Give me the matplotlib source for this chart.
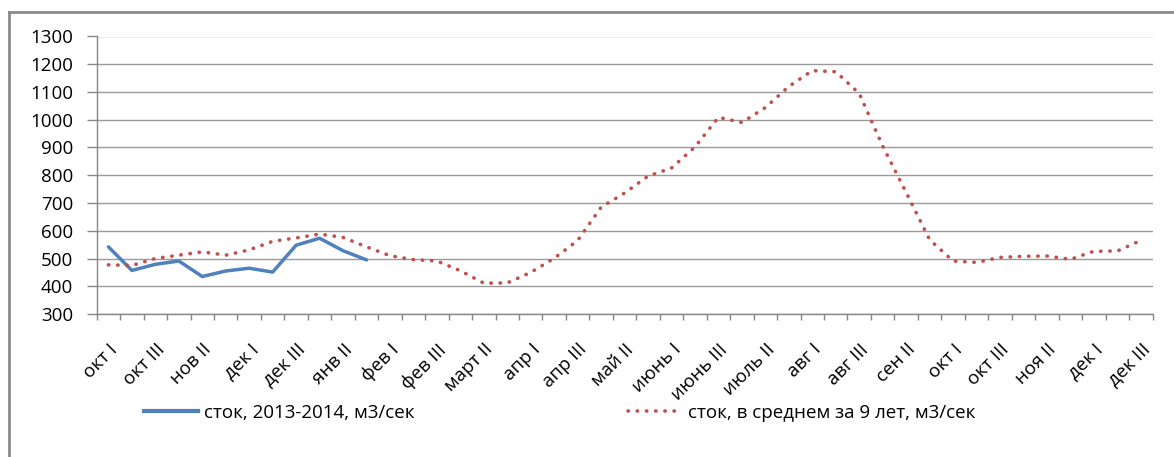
import matplotlib
matplotlib.use("Agg")
import matplotlib.pyplot as plt
from matplotlib.lines import Line2D

plt.rcParams['font.family'] = ['Open Sans', 'DejaVu Sans']

categories = ["окт I", "окт II", "окт III", "нов I", "нов II", "нов III",
              "дек I", "дек II", "дек III", "янв I", "янв II", "янв III",
              "фев I", "фев II", "фев III", "март I", "март II", "март III",
              "апр I", "апр II", "апр III", "май I", "май II", "май III",
              "июнь I", "июнь II", "июнь III", "июль I", "июль II", "июль III",
              "авг I", "авг II", "авг III", "сен I", "сен II", "сен III",
              "окт I", "окт II", "окт III", "ноя I", "ноя II", "ноя III",
              "дек I", "дек II", "дек III"]

flow_2013_2014 = [542, 457, 479, 491, 435, 455, 465, 451, 548, 573, 528, 495]

flow_avg_9y = [477, 475, 500, 512, 524, 512, 531, 562, 574, 588, 576, 542,
               510, 496, 491, 456, 411, 412, 450, 501, 565, 685, 736, 797,
               826, 902, 1009, 990, 1044, 1120, 1177, 1173, 1095, 905, 738, 568,
               491, 486, 504, 508, 509, 497, 526, 527, 565]

label_current = "сток, 2013-2014, м3/сек"
label_avg = "сток, в среднем за 9 лет, м3/сек"
y_ticks = [300, 400, 500, 600, 700, 800, 900, 1000, 1100, 1200, 1300]

FS = 13.5
W, H = 1174, 457
fig = plt.figure(figsize=(W / 100, H / 100), dpi=100)
ax = fig.add_axes([96.7 / W, 1 - 314 / H, (1152.5 - 96.7) / W, (314 - 36.5) / H])

x_cur = list(range(len(flow_2013_2014)))
x_avg = list(range(len(flow_avg_9y)))

ax.plot(x_cur, flow_2013_2014, color='#4F81BD', lw=2.5, solid_joinstyle='round',
        solid_capstyle='round', zorder=3)
ax.plot(x_avg, flow_avg_9y, color='#C0504D', lw=2.6, linestyle=(0, (0.1, 2.45)),
        dash_capstyle='round', zorder=3)

ax.set_xlim(-0.5, len(categories) - 0.5)
ax.set_ylim(300, 1300)
ax.set_yticks(y_ticks)
ax.set_yticklabels([str(v) for v in y_ticks], fontsize=FS)

ax.set_xticks([i - 0.5 for i in range(len(categories) + 1)], minor=False)
ax.set_xticklabels([])
ax.set_xticks(list(range(0, len(categories), 2)), minor=True)
ax.set_xticklabels([categories[i] for i in range(0, len(categories), 2)], minor=True,
                   rotation=45, ha='right', va='top', rotation_mode='anchor', fontsize=FS)
ax.tick_params(axis='x', which='minor', length=0, pad=19)
ax.tick_params(axis='x', which='major', length=4.5, color='#868686', width=1)
ax.tick_params(axis='y', length=7, color='#868686', width=1, pad=10)

ax.grid(axis='y', color='#9a9a9a', lw=1)
ax.set_axisbelow(True)
for s in ['top', 'right']:
    ax.spines[s].set_visible(False)
for s in ['left', 'bottom']:
    ax.spines[s].set_color('#868686')
    ax.spines[s].set_linewidth(1)

# outer chart frame (left and top edges visible)
fig.add_artist(Line2D([9 / W, 9 / W], [0, 1 - 12 / H], transform=fig.transFigure,
                      color='#8a8a8a', lw=2))
fig.add_artist(Line2D([9 / W, 1], [1 - 12 / H, 1 - 12 / H], transform=fig.transFigure,
                      color='#8a8a8a', lw=2))

h1 = Line2D([], [], color='#4F81BD', lw=3)
h2 = Line2D([], [], color='#C0504D', lw=2.6, linestyle=(0, (0.1, 2.45)), dash_capstyle='round')
leg1 = fig.legend([h1], [label_current], loc='center left',
                  bbox_to_anchor=(144 / W, 1 - 413 / H), frameon=False, fontsize=FS,
                  handlelength=2.9, handletextpad=0.3, borderpad=0, borderaxespad=0)
leg2 = fig.legend([h2], [label_avg], loc='center left',
                  bbox_to_anchor=(628 / W, 1 - 413 / H), frameon=False, fontsize=FS,
                  handlelength=2.9, handletextpad=0.3, borderpad=0, borderaxespad=0)

fig.savefig('out.png', dpi=100)
